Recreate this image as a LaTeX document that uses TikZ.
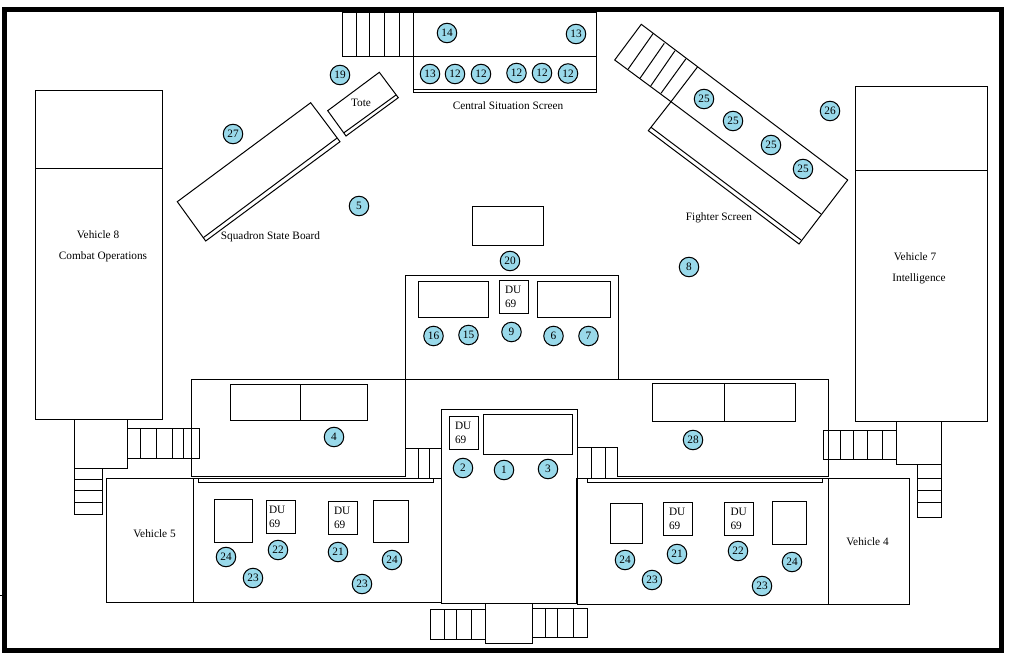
\documentclass[tikz,border=0pt]{standalone}
\usepackage{fontspec}
\setmainfont{Liberation Serif}
\definecolor{seatblue}{HTML}{99D9EA}

\begin{document}
\begin{tikzpicture}[x=1pt,y=-1pt,line width=1pt,
    seat/.style={circle,draw,fill=seatblue,minimum size=19.5pt,inner sep=0pt,font=\fontsize{11.3}{14}\selectfont},
    label/.style={inner sep=0pt,yshift=-0.8pt,font=\fontsize{11.3}{14}\selectfont},
    duunit/.style={rectangle,draw,minimum width=29pt,minimum height=33pt,inner sep=0pt,text width=17pt,align=left,font=\fontsize{11.3}{14}\selectfont}]
    \useasboundingbox (0,0) rectangle (1013,658);

    % Outer frame
    \draw[line width=5pt] (4.5,9.5) rectangle (1001.5,650.5);
    \draw (0,595.5) -- (3,595.5);

    % Vehicle 8 and its steps
    \draw (35,91) rectangle (162.5,419);
    \draw (35,169) -- (162.5,169);
    \draw (74,419) rectangle (127,468);
    \draw (74,468) rectangle (102.5,514);
    \draw (74,479) -- (102.5,479) (74,490) -- (102.5,490) (74,502) -- (102.5,502);
    \draw (127,428) rectangle (199,458);
    \draw (140,428) -- (140,458) (156,428) -- (156,458) (172,428) -- (172,458) (183,428) -- (183,458);

    % Vehicle 7 and its steps
    \draw (855,87) rectangle (987,421.5);
    \draw (855,170.5) -- (987,170.5);
    \draw (896,421.5) rectangle (941,464);
    \draw (917,464) rectangle (941,517);
    \draw (917,478) -- (941,478) (917,490) -- (941,490) (917,502) -- (941,502);
    \draw (823,430) rectangle (896,459);
    \draw (840,430) -- (840,459) (853,430) -- (853,459) (867,430) -- (867,459) (882,430) -- (882,459);

    % Central situation screen
    \draw (413,13) rectangle (596,93);
    \draw (413,57) -- (596,57) (413,90) -- (596,90);
    \draw (342,13) rectangle (413,57);
    \draw (356,13) -- (356,57) (369,13) -- (369,57) (384,13) -- (384,57) (399,13) -- (399,57);

    % Tote and squadron board
    \draw (379.3,72.3) -- (398.3,97.7) -- (346,136) -- (327.7,110.7) -- cycle;
    \draw (344,132.7) -- (396,95);
    \draw (310.7,102.7) -- (340,141.7) -- (205.7,241) -- (177.3,201.7) -- cycle;
    \draw (203.3,237.7) -- (336.7,138.3);

    % Fighter screen
    \draw (641.3,24.3) -- (847.7,180) -- (799,244) -- (648.3,130.7) -- (671,101.7) -- (614.7,60) -- cycle;
    \draw (697.7,66.7) -- (671,101.7) -- (821,214);
    \draw (651,127.3) -- (801,240);
    \draw (653.3,33.3) -- (628,69.3) (664.3,43.3) -- (640,78.3) (675,50.7) -- (650.7,86) (686,58.7) -- (661,93.3);

    % Forward desks
    \draw (472,207) rectangle (543,245);
    \draw (405,275) rectangle (618,379);
    \draw (418,281) rectangle (488,317);
    \draw (537,281) rectangle (610,317);
    \node[duunit] (duNine) at (513.5,296.5) {DU\\69};

    % Side desks
    \draw (191,379) rectangle (405,476.5);
    \draw (230,384) rectangle (367,420);
    \draw (300,384) -- (300,420);
    \draw (618,379) -- (828,379) -- (828,476) -- (617,476) -- (617,447);
    \draw (652,383) rectangle (795,421);
    \draw (724,383) -- (724,421);
    \draw (405,448) -- (441,448) (418,448) -- (418,478) (429,448) -- (429,478);
    \draw (577,447) -- (617,447) (591,447) -- (591,478) (605,447) -- (605,478);

    % Centre block and rear steps
    \draw (441,409) rectangle (577,603);
    \draw[line width=1.6pt] (577,478) -- (577,604);
    \draw (483,414) rectangle (572,454);
    \node[duunit] (duTwo) at (463.5,433) {DU\\69};
    \draw (485,603) rectangle (532,643);
    \draw (430,609) rectangle (485,639);
    \draw (444,609) -- (444,639) (456,609) -- (456,639) (471,609) -- (471,639);
    \draw (532,608) rectangle (587,637);
    \draw (545,608) -- (545,637) (557,608) -- (557,637) (573,608) -- (573,637);

    % Vehicle 5 bay
    \draw (106,478) rectangle (441,602);
    \draw (193,478) -- (193,602);
    \draw (198.5,478) -- (198.5,482) -- (433,482) -- (433,478);
    \draw (214,499) rectangle (252,542);
    \draw (373,500) rectangle (408,542);
    \node[duunit,text width=23pt] (duLeftA) at (280.5,516.5) {DU\\69};
    \node[duunit] (duLeftB) at (342.5,517.5) {DU\\69};

    % Vehicle 4 bay
    \draw (577,478) rectangle (909,604);
    \draw (828,478) -- (828,604);
    \draw (587,478) -- (587,482) -- (822,482) -- (822,478);
    \draw (610,503) rectangle (642,543);
    \draw (772,501) rectangle (806,544);
    \node[duunit] (duRightA) at (677.5,519) {DU\\69};
    \node[duunit] (duRightB) at (739,519) {DU\\69};

    % Labels
    \node[label] (central) at (508,105) {Central Situation Screen};
    \node[label] (tote) at (361,102) {Tote};
    \node[label] (squadron) at (270.5,236) {Squadron State Board};
    \node[label] (fighter) at (719,217) {Fighter Screen};
    \node[label] (veh8) at (98,234) {Vehicle 8};
    \node[label] (combat) at (103,256) {Combat Operations};
    \node[label] (veh7) at (915,256) {Vehicle 7};
    \node[label] (intel) at (919,278) {Intelligence};
    \node[label] (veh5) at (154.5,533) {Vehicle 5};
    \node[label] (veh4) at (867.5,541) {Vehicle 4};

    % Numbered positions
    \node[seat] (p14) at (447,33) {14};
    \node[seat] (p13a) at (576,34) {13};
    \node[seat] (p13b) at (430,74) {13};
    \node[seat] (p12a) at (455,74) {12};
    \node[seat] (p12b) at (481,74) {12};
    \node[seat] (p12c) at (516.5,73) {12};
    \node[seat] (p12d) at (542,73) {12};
    \node[seat] (p12e) at (568,73.5) {12};
    \node[seat] (p19) at (340,75) {19};
    \node[seat] (p27) at (233,134) {27};
    \node[seat] (p5) at (359,206) {5};
    \node[seat] (p26) at (830,111) {26};
    \node[seat] (p25a) at (704,99) {25};
    \node[seat] (p25b) at (733,121) {25};
    \node[seat] (p25c) at (771,145) {25};
    \node[seat] (p25d) at (803,169) {25};
    \node[seat] (p8) at (689,267) {8};
    \node[seat] (p20) at (510,261) {20};
    \node[seat] (p16) at (433.5,336) {16};
    \node[seat] (p15) at (468.5,335) {15};
    \node[seat] (p9) at (511.5,332) {9};
    \node[seat] (p6) at (553.5,336) {6};
    \node[seat] (p7) at (588.5,336) {7};
    \node[seat] (p4) at (334,437) {4};
    \node[seat] (p28) at (693,440) {28};
    \node[seat] (p2) at (463,468) {2};
    \node[seat] (p1) at (504,470) {1};
    \node[seat] (p3) at (548,469) {3};
    \node[seat] (p24a) at (226,557) {24};
    \node[seat] (p22a) at (278,550) {22};
    \node[seat] (p23a) at (253,578) {23};
    \node[seat] (p21a) at (338,552) {21};
    \node[seat] (p24b) at (392,560) {24};
    \node[seat] (p23b) at (362,584) {23};
    \node[seat] (p24c) at (625,560) {24};
    \node[seat] (p21b) at (677,554) {21};
    \node[seat] (p23c) at (652,580) {23};
    \node[seat] (p22b) at (738,551) {22};
    \node[seat] (p24d) at (792,562) {24};
    \node[seat] (p23d) at (762,586) {23};
\end{tikzpicture}
\end{document}
